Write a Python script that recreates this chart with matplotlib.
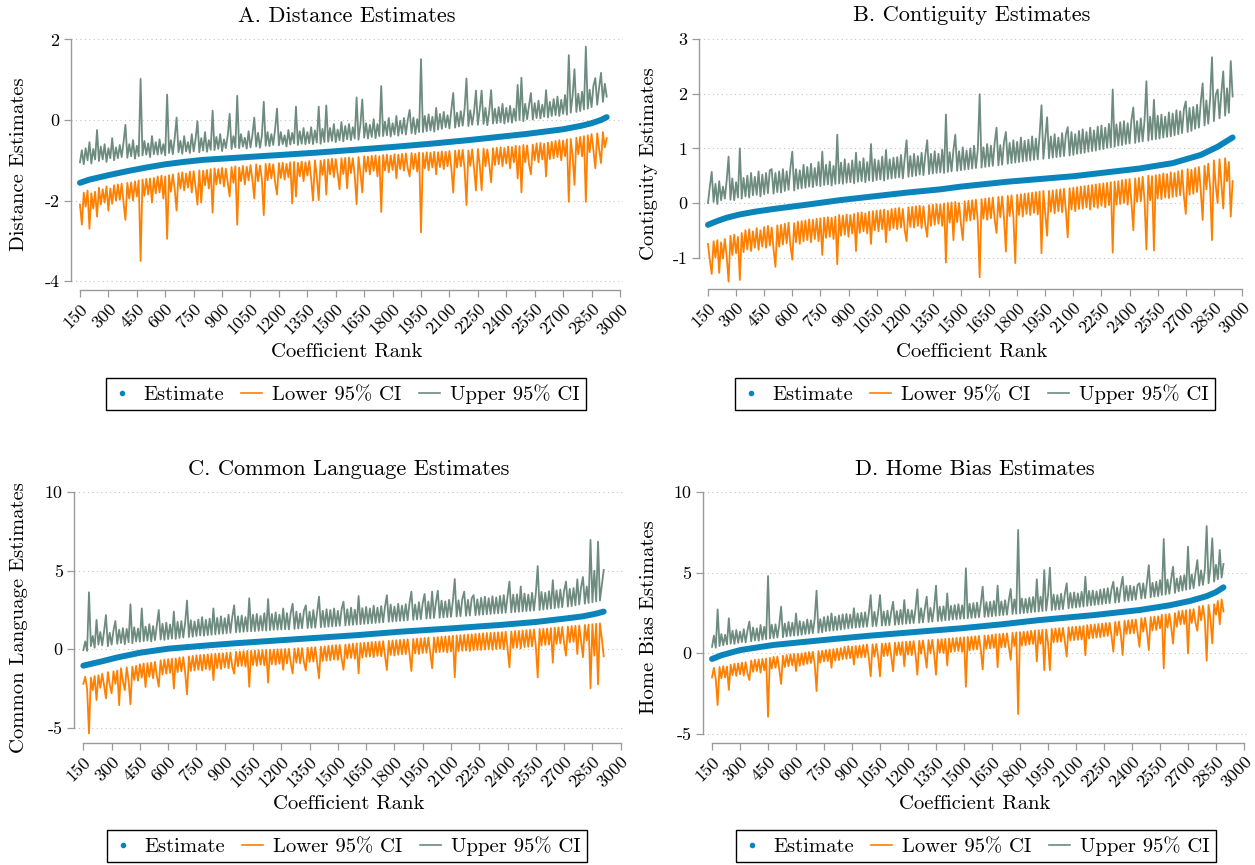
import numpy as np
import matplotlib
matplotlib.use("Agg")
import matplotlib.pyplot as plt
from matplotlib.lines import Line2D

plt.rcParams['font.family'] = ['cmr10', 'DejaVu Serif']
plt.rcParams['axes.unicode_minus'] = False
plt.rcParams['axes.formatter.use_mathtext'] = True

W, H = 1255, 865
BLUE = '#0a84ba'
ORANGE = '#ff7f00'
GREEN = '#6d8b7e'

x_ticks = list(range(150, 3001, 150))
legend_labels = ['Estimate', 'Lower 95% CI', 'Upper 95% CI']
RANK_START, RANK_STEP = 150, 10   # CI series are read every 10 ranks from rank 150

# ---------------- Panel A: Distance ----------------
est_rank_A = [150, 200, 300, 400, 500, 600, 700, 800, 1000, 1200, 1400, 1600, 1800,
              2000, 2200, 2400, 2500, 2600, 2700, 2800, 2850, 2900, 2930]
est_A = [-1.56, -1.48, -1.37, -1.27, -1.18, -1.10, -1.04, -0.99, -0.93, -0.87, -0.81, -0.74, -0.67,
         -0.59, -0.50, -0.40, -0.35, -0.29, -0.23, -0.14, -0.08, 0.00, 0.07]
upper_A = [
    -1.05, -0.75, -1.10, -0.70, -1.00, -0.55, -1.08, -0.72, -0.98, -0.25,
    -1.02, -0.66, -0.98, -0.60, -1.04, -0.70, -0.95, -0.45, -1.00, -0.68,
    -0.95, -0.62, -0.92, -0.55, -0.12, -0.94, -0.60, -0.90, -0.50, -0.96,
    -0.64, -0.90, 1.02, -0.88, -0.52, -0.86, -0.58, -0.92, -0.40, -0.85,
    -0.55, -0.86, -0.48, -0.84, -0.60, -0.88, 0.63, -0.82, -0.50, -0.85,
    -0.45, 0.06, -0.80, -0.52, -0.84, -0.40, -0.78, -0.55, -0.82, -0.35,
    -0.78, -0.48, -0.03, -0.80, -0.45, -0.76, -0.30, -0.79, -0.50, -0.74,
    0.23, -0.75, -0.42, -0.72, -0.35, -0.77, -0.48, -0.70, -0.38, 0.15,
    -0.72, -0.40, -0.68, 0.60, -0.70, -0.35, -0.66, -0.44, -0.71, -0.28,
    -0.68, -0.38, 0.06, -0.66, -0.32, -0.69, -0.40, 0.45, -0.64, -0.30,
    -0.65, -0.35, -0.62, -0.22, 0.28, -0.63, -0.30, -0.60, -0.38, -0.66,
    -0.25, -0.61, -0.32, -0.58, 0.33, -0.62, -0.28, -0.59, -0.20, -0.60,
    -0.30, -0.58, -0.18, -0.60, -0.26, -0.56, 0.33, -0.59, -0.22, -0.55,
    0.36, -0.54, -0.20, -0.52, -0.10, -0.55, -0.24, -0.50, -0.05, -0.53,
    -0.15, -0.48, -0.10, -0.50, -0.18, -0.46, 0.56, -0.49, -0.12, 0.51,
    -0.44, -0.08, -0.46, -0.12, -0.42, 0.02, -0.45, -0.10, -0.40, 0.84,
    -0.40, -0.04, -0.38, 0.05, -0.41, -0.08, -0.36, 0.10, -0.39, -0.02,
    -0.34, 0.05, -0.36, 0.00, 0.25, -0.33, 0.06, -0.35, 0.02, -0.30,
    1.51, -0.30, 0.10, -0.28, 0.14, -0.26, 0.08, -0.29, 0.30, -0.24,
    0.15, -0.22, 0.20, -0.18, 0.12, -0.21, 0.25, 0.67, -0.19, 0.18,
    -0.16, 0.22, -0.14, 0.28, 1.03, -0.15, 0.24, -0.12, 0.20, 0.73,
    -0.12, 0.26, 0.73, -0.10, 0.30, -0.13, 0.22, 0.74, -0.09, 0.28,
    -0.08, 0.32, -0.06, 0.40, -0.09, 0.30, -0.05, 0.35, -0.07, 0.28,
    -0.02, 0.87, 0.00, 1.05, -0.03, 0.40, 0.02, 0.36, 0.67, 0.01,
    0.42, 0.05, 0.48, 0.04, 0.38, 0.08, 0.74, 0.06, 0.45, 0.10,
    0.52, 0.12, 0.58, 0.10, 0.50, 0.15, 0.62, 0.13, 1.61, 0.18,
    0.60, 1.26, 0.20, 0.65, 0.22, 0.70, 0.26, 1.82, 0.28, 0.75,
    0.32, 0.85, 1.04, 0.38, 0.80, 1.17, 0.45, 0.90, 0.58,
]
lower_A = [
    -2.10, -2.60, -1.80, -2.15, -1.75, -2.70, -1.82, -2.20, -1.78, -2.40,
    -1.68, -2.10, -1.72, -2.05, -1.65, -2.25, -1.70, -2.08, -1.62, -2.00,
    -1.60, -1.98, -1.58, -2.05, -2.48, -1.56, -1.95, -1.55, -2.00, -1.52,
    -1.90, -1.50, -3.50, -1.48, -1.88, -1.46, -1.85, -1.45, -2.05, -1.44,
    -1.82, -1.40, -1.80, -1.38, -1.95, -1.40, -2.95, -1.37, -1.78, -1.35,
    -1.72, -2.25, -1.32, -1.70, -1.30, -1.75, -1.33, -1.68, -1.28, -1.80,
    -1.27, -1.65, -2.10, -1.25, -2.05, -1.26, -1.62, -1.24, -1.70, -1.22,
    -2.30, -1.20, -1.60, -1.22, -1.58, -1.19, -1.65, -1.21, -1.55, -1.90,
    -1.17, -1.56, -1.15, -2.60, -1.18, -1.52, -1.14, -1.60, -1.16, -1.50,
    -1.12, -1.48, -1.95, -1.10, -1.52, -1.13, -1.46, -2.36, -1.09, -1.50,
    -1.08, -1.45, -1.10, -1.55, -1.85, -1.07, -1.44, -1.06, -1.48, -1.09,
    -1.42, -1.05, -2.07, -1.04, -1.90, -1.06, -1.40, -1.03, -1.52, -1.05,
    -1.38, -1.02, -1.45, -2.00, -1.00, -1.40, -1.99, -1.01, -1.36, -0.99,
    -1.85, -0.98, -1.35, -0.96, -1.42, -0.97, -1.33, -1.72, -0.95, -1.34,
    -0.94, -1.70, -0.93, -1.32, -0.95, -1.38, -2.09, -0.92, -1.30, -1.80,
    -0.90, -1.28, -0.91, -1.35, -0.89, -1.26, -0.88, -1.40, -0.90, -2.28,
    -0.87, -1.25, -0.86, -1.30, -0.88, -1.24, -0.85, -1.45, -0.86, -1.22,
    -0.84, -1.26, -0.83, -1.20, -1.40, -0.82, -1.22, -0.84, -1.28, -0.81,
    -2.79, -0.82, -1.20, -0.80, -1.25, -0.81, -1.18, -0.79, -1.35, -0.80,
    -1.17, -0.78, -1.22, -0.79, -1.15, -0.77, -1.20, -1.80, -0.76, -1.18,
    -0.75, -1.15, -0.74, -1.22, -2.11, -0.76, -1.14, -0.73, -1.20, -1.75,
    -0.72, -1.12, -1.74, -0.71, -1.15, -0.73, -1.10, -1.55, -0.70, -1.12,
    -0.69, -1.10, -0.68, -1.15, -0.70, -1.08, -0.66, -1.20, -0.67, -1.05,
    -0.64, -1.45, -0.65, -1.80, -0.62, -1.05, -0.63, -1.10, -1.35, -0.61,
    -1.00, -0.58, -1.05, -0.57, -0.98, -0.59, -1.40, -0.56, -0.97, -0.54,
    -0.95, -0.52, -0.92, -0.50, -1.00, -0.51, -0.90, -0.48, -2.03, -0.47,
    -0.88, -1.61, -0.44, -0.85, -0.42, -0.90, -0.40, -2.03, -0.38, -0.80,
    -0.35, -0.75, -1.20, -0.33, -0.72, -1.07, -0.30, -0.68, -0.45,
]

# ---------------- Panel B: Contiguity ----------------
est_rank_B = [150, 200, 250, 320, 400, 500, 680, 850, 1030, 1210, 1390, 1500, 1750,
              2100, 2450, 2630, 2780, 2870, 2950]
est_B = [-0.40, -0.33, -0.27, -0.21, -0.16, -0.11, -0.03, 0.05, 0.12, 0.19, 0.25, 0.30, 0.39,
         0.49, 0.63, 0.73, 0.88, 1.03, 1.20]
upper_B = [
    0.00, 0.30, 0.57, 0.02, 0.35, -0.02, 0.40, 0.05, 0.30, 0.08,
    0.42, 0.85, 0.06, 0.45, 0.05, 0.38, 0.10, 1.00, 0.08, 0.46,
    0.12, 0.50, 0.10, 0.55, 0.14, 0.48, 0.15, 0.58, 0.12, 0.52,
    0.16, 0.55, 0.18, 0.60, 0.62, 0.17, 0.55, 0.20, 0.58, 0.19,
    0.62, 0.22, 0.58, 0.24, 0.65, 0.94, 0.23, 0.62, 0.26, 0.60,
    0.27, 0.70, 0.28, 0.66, 0.30, 0.72, 0.29, 0.64, 0.32, 0.75,
    0.31, 0.94, 0.33, 0.70, 0.34, 0.76, 0.32, 0.68, 0.35, 1.25,
    0.36, 0.74, 0.35, 0.80, 0.37, 0.72, 0.38, 0.78, 0.36, 0.92,
    0.39, 0.76, 0.40, 0.82, 0.38, 0.75, 0.41, 1.08, 0.40, 0.80,
    0.42, 0.78, 0.43, 0.85, 0.41, 0.97, 0.44, 0.80, 0.45, 0.83,
    0.46, 0.84, 0.47, 0.88, 0.45, 0.82, 1.15, 0.48, 0.86, 0.49,
    0.90, 0.50, 0.86, 0.52, 0.92, 0.51, 0.88, 1.15, 0.53, 0.90,
    0.54, 0.95, 0.55, 0.90, 0.56, 0.98, 0.55, 1.62, 0.57, 0.93,
    0.58, 0.97, 1.25, 0.59, 0.95, 0.60, 1.02, 0.61, 0.96, 0.62,
    1.00, 0.63, 1.05, 0.64, 0.98, 1.99, 0.65, 1.02, 0.66, 1.08,
    0.67, 1.05, 0.68, 1.10, 1.38, 0.69, 1.06, 0.70, 1.12, 1.30,
    0.72, 1.10, 0.73, 1.15, 0.74, 1.12, 0.75, 1.20, 0.76, 1.14,
    0.77, 1.16, 0.78, 1.22, 0.79, 1.18, 0.80, 1.25, 1.79, 0.81,
    1.20, 1.57, 0.82, 1.22, 0.83, 1.26, 0.84, 1.20, 0.85, 1.28,
    0.86, 1.25, 1.39, 0.87, 1.30, 0.88, 1.26, 0.90, 1.32, 0.91,
    1.35, 0.92, 1.30, 0.94, 1.38, 0.95, 1.33, 0.96, 1.40, 0.98,
    1.42, 0.99, 1.38, 1.01, 1.45, 1.02, 2.08, 1.03, 1.44, 1.05,
    1.48, 1.06, 1.50, 1.08, 1.46, 1.09, 1.52, 1.75, 1.10, 1.50,
    1.12, 1.55, 1.13, 1.52, 2.23, 1.14, 1.58, 1.16, 1.89, 1.17,
    1.60, 1.18, 1.62, 1.20, 1.58, 1.21, 1.66, 1.22, 1.64, 1.24,
    1.70, 1.26, 1.68, 1.28, 1.72, 1.86, 1.30, 1.74, 1.32, 1.76,
    1.36, 1.80, 1.38, 1.85, 2.19, 1.42, 1.88, 1.45, 1.92, 2.67,
    1.50, 1.98, 2.08, 1.55, 2.02, 2.41, 1.60, 2.10, 1.65, 2.60,
    1.95,
]
lower_B = [
    -0.75, -1.05, -1.30, -0.70, -1.00, -0.68, -1.28, -0.72, -1.02, -0.66,
    -0.98, -1.44, -0.60, -0.95, -0.58, -0.92, -0.62, -1.41, -0.55, -0.90,
    -0.50, -0.85, -0.48, -0.88, -0.52, -0.82, -0.46, -0.86, -0.50, -0.80,
    -0.44, -0.82, -0.42, -0.78, -0.45, -0.85, -1.17, -0.41, -0.80, -0.40,
    -0.76, -0.38, -0.74, -0.36, -0.78, -1.04, -0.37, -0.72, -0.34, -0.75,
    -0.33, -0.70, -0.32, -0.68, -0.30, -0.72, -0.31, -0.66, -0.29, -0.70,
    -0.28, -0.95, -0.27, -0.64, -0.26, -0.62, -0.27, -0.66, -0.25, -1.12,
    -0.22, -0.60, -0.23, -0.58, -0.21, -0.62, -0.22, -0.56, -0.20, -0.88,
    -0.18, -0.55, -0.17, -0.52, -0.19, -0.56, -0.16, -0.75, -0.15, -0.50,
    -0.14, -0.52, -0.13, -0.48, -0.12, -0.72, -0.14, -0.50, -0.11, -0.46,
    -0.10, -0.48, -0.09, -0.45, -0.11, -0.50, -0.70, -0.08, -0.44, -0.07,
    -0.45, -0.06, -0.42, -0.05, -0.46, -0.06, -0.40, -0.62, -0.04, -0.42,
    -0.03, -0.40, -0.02, -0.38, -0.03, -0.42, -0.01, -1.09, 0.00, -0.36,
    0.01, -0.68, 0.02, -0.35, 0.00, -0.38, -0.68, 0.03, -0.33, 0.04,
    -0.32, 0.05, -0.30, 0.06, -0.34, -1.36, 0.07, -0.29, 0.08, -0.31,
    0.09, -0.28, 0.10, -0.30, -0.55, 0.11, -0.26, 0.12, -0.28, -0.89,
    0.13, -0.24, 0.14, -0.26, -1.10, 0.15, -0.22, 0.16, -0.25, 0.17,
    -0.20, 0.18, -0.22, 0.19, -0.18, 0.20, -0.21, 0.21, -0.92, 0.22,
    -0.18, -0.60, 0.22, -0.16, 0.23, -0.19, 0.24, -0.15, 0.25, -0.17,
    0.26, -0.14, -0.63, 0.27, -0.12, 0.28, -0.15, 0.29, -0.11, 0.30,
    -0.10, 0.31, -0.08, 0.32, -0.12, 0.33, -0.07, 0.34, -0.09, 0.35,
    -0.05, 0.36, -0.08, 0.37, -0.04, 0.38, -0.91, 0.39, -0.03, 0.40,
    -0.02, 0.42, 0.00, 0.43, -0.03, 0.44, 0.01, -0.50, 0.45, 0.02,
    0.46, 0.03, 0.48, 0.04, -0.85, 0.50, 0.05, 0.49, -0.87, 0.51,
    0.08, 0.52, 0.07, 0.54, 0.10, 0.53, 0.09, 0.56, 0.11, 0.55,
    0.12, 0.58, 0.14, 0.60, 0.13, -0.20, 0.62, 0.15, 0.61, 0.17,
    0.64, 0.20, 0.66, 0.22, -0.31, 0.68, 0.25, 0.72, 0.28, -0.68,
    0.78, 0.32, 0.00, 0.80, 0.36, -0.10, 0.82, 0.40, 0.75, -0.25,
    0.40,
]

# ---------------- Panel C: Common Language ----------------
est_rank_C = [150, 200, 250, 330, 450, 600, 800, 950, 1100, 1300, 1400, 1600, 1830,
              2100, 2360, 2550, 2714, 2800, 2870, 2910]
est_C = [-1.04, -0.90, -0.76, -0.52, -0.22, 0.04, 0.24, 0.38, 0.50, 0.66, 0.74, 0.90, 1.12,
         1.33, 1.55, 1.74, 1.97, 2.10, 2.27, 2.40]
upper_C = [
    -0.05, 0.50, -0.10, 3.63, 0.20, 0.85, 0.10, 1.87, 0.30, 1.10,
    0.25, 1.15, 2.18, 0.20, 1.05, 0.30, 1.20, 1.80, 0.35, 1.25,
    0.40, 1.35, 0.32, 1.30, 0.45, 2.86, 0.38, 1.40, 0.50, 1.32,
    0.48, 2.60, 0.52, 1.45, 0.55, 1.60, 0.50, 1.48, 0.58, 1.55,
    2.50, 0.62, 1.62, 0.60, 1.70, 0.65, 1.58, 0.68, 2.40, 0.66,
    1.75, 0.72, 1.80, 0.75, 1.70, 3.10, 0.78, 1.85, 0.80, 1.78,
    0.85, 1.90, 0.88, 2.05, 0.86, 1.88, 0.90, 1.95, 0.92, 2.60,
    0.95, 2.00, 0.98, 2.10, 1.00, 1.98, 1.02, 2.20, 1.05, 2.05,
    2.80, 1.08, 2.10, 1.10, 2.15, 1.12, 2.05, 1.14, 3.25, 1.15,
    2.20, 1.16, 2.25, 1.18, 2.12, 1.20, 2.30, 1.19, 3.20, 1.22,
    2.25, 1.24, 2.35, 1.25, 2.20, 1.26, 2.60, 1.28, 2.30, 1.27,
    2.32, 2.90, 1.30, 2.40, 1.32, 2.28, 1.34, 2.45, 2.80, 1.35,
    2.40, 1.37, 2.50, 1.38, 2.35, 3.35, 1.40, 2.45, 1.42, 2.55,
    1.44, 2.50, 1.46, 2.60, 1.48, 2.45, 1.50, 2.58, 3.03, 1.52,
    2.55, 1.54, 2.65, 1.56, 2.52, 1.58, 3.39, 1.60, 2.62, 1.62,
    2.70, 1.64, 2.60, 1.66, 2.78, 1.68, 2.65, 1.70, 2.75, 1.72,
    2.70, 3.45, 1.75, 2.85, 1.77, 2.72, 1.79, 2.90, 1.81, 2.78,
    1.83, 2.88, 1.85, 2.95, 3.67, 1.88, 2.85, 1.90, 3.00, 1.92,
    2.95, 3.52, 1.95, 3.05, 1.97, 3.67, 1.99, 2.98, 3.73, 2.01,
    3.10, 2.03, 3.05, 2.05, 3.15, 2.07, 3.08, 4.47, 2.09, 3.12,
    2.11, 3.20, 3.67, 2.13, 3.15, 2.15, 3.25, 3.45, 2.17, 3.18,
    2.19, 3.28, 2.21, 3.35, 2.23, 3.25, 2.25, 3.38, 2.27, 3.30,
    2.29, 3.40, 2.31, 3.45, 2.33, 3.38, 4.31, 2.35, 3.48, 2.37,
    3.50, 2.39, 4.00, 2.41, 3.55, 2.43, 3.48, 2.45, 3.60, 2.47,
    3.58, 5.30, 2.50, 3.65, 2.53, 3.60, 2.56, 3.70, 2.59, 4.40,
    2.62, 3.75, 2.65, 3.80, 2.68, 3.72, 4.31, 2.72, 3.85, 2.75,
    3.90, 2.80, 4.45, 2.85, 3.95, 4.60, 2.90, 4.00, 2.95, 6.96,
    3.00, 5.00, 3.05, 6.85, 3.10, 4.10, 5.05,
]
lower_C = [
    -2.20, -1.75, -2.50, -5.35, -1.80, -2.60, -1.70, -3.23, -1.65, -2.45,
    -1.55, -2.30, -3.12, -1.45, -2.25, -2.80, -1.40, -2.20, -1.35, -3.55,
    -1.20, -2.05, -2.60, -1.15, -2.00, -3.50, -1.10, -1.95, -1.05, -2.00,
    -0.95, -1.80, -0.90, -2.40, -0.88, -1.75, -0.85, -1.85, -0.80, -1.70,
    -2.38, -0.70, -1.60, -0.65, -1.55, -0.62, -1.50, -0.60, -2.50, -0.58,
    -1.45, -0.52, -1.40, -0.50, -1.48, -2.87, -0.45, -1.38, -0.42, -1.35,
    -0.38, -1.30, -0.36, -1.35, -0.34, -1.25, -0.32, -1.30, -0.30, -1.96,
    -0.28, -1.20, -0.26, -1.25, -0.25, -1.15, -0.22, -1.20, -0.20, -1.10,
    -1.55, -0.16, -1.08, -0.14, -1.05, -0.12, -1.10, -0.10, -2.38, -0.09,
    -1.00, -0.08, -1.05, -0.06, -0.98, -0.05, -1.02, -0.04, -2.12, -0.03,
    -0.95, -0.02, -0.98, 0.00, -0.92, 0.01, -1.30, 0.02, -0.90, 0.03,
    -0.88, -1.53, 0.05, -0.85, 0.07, -0.90, 0.08, -0.82, -1.35, 0.10,
    -0.80, 0.12, -0.78, 0.14, -0.82, -1.85, 0.16, -0.75, 0.18, -0.72,
    0.22, -0.70, 0.25, -0.65, 0.27, -0.68, 0.28, -0.62, -1.30, 0.30,
    -0.58, 0.33, -0.55, 0.36, -0.60, 0.38, -1.53, 0.40, -0.52, 0.42,
    -0.48, 0.44, -0.45, 0.46, -0.50, 0.48, -0.42, 0.50, -0.44, 0.52,
    -0.38, -1.32, 0.54, -0.36, 0.56, -0.40, 0.58, -0.34, 0.60, -0.32,
    0.62, -0.30, 0.64, -0.28, -1.38, 0.66, -0.26, 0.68, -0.30, 0.70,
    -0.24, 0.72, -0.22, 0.74, -0.25, -1.21, 0.76, -0.20, 0.78, -0.18,
    0.80, -0.16, 0.82, -0.20, 0.84, -0.14, 0.86, -1.78, 0.88, -0.12,
    0.90, -0.10, 0.92, -0.08, 0.94, -0.12, 0.96, -0.06, 0.98, -0.04,
    1.00, -0.05, 1.02, -0.02, 1.04, 0.00, 1.05, -0.03, 1.07, 0.02,
    1.08, 0.04, 1.10, 0.00, 1.12, 0.06, -1.15, 1.14, 0.08, 1.16,
    0.10, 1.18, 0.05, 1.20, 0.14, 1.22, 0.16, 1.24, 0.18, 1.26,
    0.20, -1.78, 1.28, 0.24, 1.30, 0.28, 1.32, 0.30, 1.35, -0.85,
    1.38, 0.34, 1.40, 0.38, 1.42, 0.40, -0.40, 1.45, 0.44, 1.48,
    0.48, 1.50, -0.30, 1.52, 0.52, -0.50, 1.55, 0.56, 1.58, -2.48,
    1.60, -0.40, 1.62, -2.23, 1.65, 0.70, -0.45,
]

# ---------------- Panel D: Home Bias ----------------
est_rank_D = [150, 200, 300, 400, 480, 600, 840, 1000, 1190, 1370, 1480, 1700, 1900,
              2200, 2440, 2600, 2710, 2800, 2850, 2890]
est_D = [-0.35, -0.12, 0.20, 0.38, 0.52, 0.66, 0.93, 1.10, 1.28, 1.45, 1.55, 1.80, 2.06,
         2.38, 2.69, 2.98, 3.25, 3.55, 3.80, 4.10]
upper_D = [
    0.40, 1.10, 0.35, 2.73, 0.45, 1.20, 0.50, 1.15, 0.55, 2.18,
    0.60, 1.40, 0.58, 1.45, 0.65, 1.35, 0.70, 1.50, 0.68, 1.42,
    1.97, 0.75, 1.60, 0.80, 1.55, 0.78, 1.76, 0.85, 1.65, 0.88,
    4.80, 0.92, 1.78, 0.95, 1.80, 0.98, 1.75, 2.90, 1.00, 1.85,
    1.05, 1.95, 1.08, 1.90, 1.10, 2.48, 1.12, 2.00, 1.15, 1.95,
    1.20, 2.10, 1.22, 2.05, 1.25, 2.15, 3.89, 1.28, 2.12, 1.30,
    2.25, 1.38, 2.30, 1.40, 2.48, 1.42, 2.28, 1.45, 2.35, 1.48,
    2.42, 1.52, 2.45, 1.55, 2.40, 1.58, 2.80, 1.60, 2.48, 1.62,
    2.52, 1.64, 2.55, 1.66, 2.50, 3.62, 1.68, 2.58, 1.70, 2.55,
    3.62, 1.72, 2.60, 1.74, 2.65, 1.75, 2.58, 3.20, 1.77, 2.62,
    1.80, 2.70, 1.82, 3.31, 1.84, 2.72, 1.86, 2.68, 1.88, 2.75,
    3.97, 1.90, 2.80, 1.92, 2.78, 3.52, 1.95, 2.82, 1.97, 2.85,
    4.20, 2.00, 2.90, 2.02, 2.92, 2.05, 3.72, 2.07, 2.95, 2.10,
    3.00, 2.12, 3.05, 2.14, 2.98, 2.16, 5.28, 2.18, 3.08, 2.20,
    3.12, 2.22, 3.15, 2.24, 3.10, 4.14, 2.26, 3.18, 2.28, 3.20,
    2.30, 3.25, 2.33, 4.20, 2.36, 3.22, 2.38, 3.30, 2.40, 3.28,
    4.00, 2.44, 3.35, 2.46, 7.66, 2.48, 3.40, 2.50, 3.38, 2.52,
    3.45, 2.55, 3.50, 2.58, 4.60, 2.60, 3.52, 2.62, 5.17, 2.65,
    3.60, 5.32, 2.68, 3.65, 2.70, 3.62, 2.72, 3.70, 2.75, 3.68,
    4.35, 2.80, 3.75, 2.83, 3.78, 2.85, 3.72, 2.88, 3.82, 2.90,
    4.76, 2.95, 3.88, 2.98, 3.90, 3.00, 3.85, 3.03, 3.95, 3.06,
    4.00, 3.10, 4.05, 3.12, 3.98, 4.45, 3.15, 4.08, 3.18, 4.10,
    4.76, 3.25, 4.18, 3.28, 4.20, 3.30, 4.15, 3.33, 4.25, 4.35,
    3.40, 4.35, 3.43, 4.40, 5.48, 3.48, 4.38, 3.52, 4.45, 3.55,
    4.55, 3.62, 7.10, 3.65, 4.58, 3.70, 4.62, 5.38, 3.75, 4.65,
    3.85, 4.80, 3.90, 4.85, 3.95, 6.62, 4.00, 4.90, 4.05, 5.00,
    5.79, 4.20, 5.15, 4.25, 5.20, 7.90, 4.35, 5.30, 7.14, 4.45,
    5.50, 4.60, 6.42, 4.70, 5.55,
]
lower_D = [
    -1.50, -0.90, -1.60, -3.21, -0.85, -1.55, -0.80, -1.50, -0.82, -2.27,
    -0.70, -1.35, -0.65, -1.40, -0.62, -1.30, -0.58, -1.38, -0.55, -1.25,
    -1.66, -0.45, -1.15, -0.40, -1.10, -0.38, -1.20, -0.35, -1.05, -0.32,
    -3.94, -0.28, -0.95, -0.22, -0.90, -0.20, -0.98, -1.90, -0.15, -0.85,
    -0.10, -0.80, -0.06, -0.75, -0.04, -1.10, -0.02, -0.78, 0.00, -0.72,
    0.05, -0.65, 0.08, -0.60, 0.10, -0.68, -2.34, 0.14, -0.58, 0.16,
    -0.50, 0.20, -0.48, 0.24, -0.90, 0.26, -0.45, 0.30, -0.42, 0.32,
    -0.36, 0.40, -0.34, 0.44, -0.30, 0.42, -0.70, 0.46, -0.28, 0.48,
    -0.26, 0.52, -0.24, 0.55, -0.28, -1.43, 0.56, -0.20, 0.58, -0.22,
    -1.43, 0.60, -0.18, 0.62, -0.15, 0.64, -0.20, -1.12, 0.66, -0.12,
    0.68, -0.10, 0.70, -0.80, 0.72, -0.08, 0.74, -0.12, 0.76, -0.05,
    -1.33, 0.78, -0.02, 0.80, 0.00, -0.90, 0.82, 0.02, 0.84, -0.04,
    -1.33, 0.86, 0.05, 0.88, 0.02, 0.90, -0.75, 0.92, 0.08, 0.94,
    0.12, 0.96, 0.15, 0.98, 0.10, 1.00, -2.07, 1.02, 0.18, 1.04,
    0.22, 1.06, 0.25, 1.08, 0.20, -1.00, 1.10, 0.28, 1.12, 0.30,
    1.15, 0.34, 1.18, -0.86, 1.20, 0.36, 1.22, 0.38, 1.24, 0.40,
    -0.40, 1.28, 0.45, 1.30, -3.77, 1.32, 0.48, 1.34, 0.50, 1.36,
    0.55, 1.40, 0.58, 1.42, -0.50, 1.44, 0.60, 1.46, -1.04, 1.48,
    0.66, -1.04, 1.52, 0.68, 1.54, 0.70, 1.56, 0.72, 1.58, 0.74,
    -0.20, 1.62, 0.80, 1.64, 0.82, 1.66, 0.84, 1.68, 0.86, 1.70,
    -0.12, 1.75, 0.92, 1.78, 0.95, 1.80, 0.98, 1.82, 1.00, 1.85,
    1.05, 1.88, 1.08, 1.90, 1.10, 0.10, 1.95, 1.12, 1.98, 1.15,
    -0.10, 2.02, 1.20, 2.05, 1.22, 2.08, 1.25, 2.10, 1.28, 0.40,
    2.18, 1.35, 2.20, 1.38, 0.20, 2.25, 1.42, 2.28, 1.45, 2.30,
    1.55, 2.40, -0.93, 2.42, 1.60, 2.45, 1.62, 0.60, 2.50, 1.65,
    2.62, 1.80, 2.65, 1.82, 2.68, 0.00, 2.72, 1.88, 2.75, 1.90,
    1.40, 2.92, 2.05, 2.95, 2.10, -0.46, 3.00, 2.15, 0.62, 3.05,
    2.40, 3.25, 1.80, 3.35, 2.60,
]


def ranks_for(values):
    return RANK_START + RANK_STEP * np.arange(len(values))


panels = [
    dict(title='A. Distance Estimates', ylabel='Distance Estimates',
         lower=lower_A, upper=upper_A, est_rank=est_rank_A, est=est_A,
         yticks=[-4, -2, 0, 2], ylim=(-4.22, 2.03), box=(70.5, 622.8, 38.2, 290.0),
         ylab_x=-0.0923, xlab_y=-0.246, leg=(346, 394)),
    dict(title='B. Contiguity Estimates', ylabel='Contiguity Estimates',
         lower=lower_B, upper=upper_B, est_rank=est_rank_B, est=est_B,
         yticks=[-1, 0, 1, 2, 3], ylim=(-1.57, 3.02), box=(698.6, 1244.8, 38.1, 288.7),
         ylab_x=-0.0908, xlab_y=-0.253, leg=(975, 394)),
    dict(title='C. Common Language Estimates', ylabel='Common Language Estimates',
         lower=lower_C, upper=upper_C, est_rank=est_rank_C, est=est_C,
         yticks=[-5, 0, 5, 10], ylim=(-5.95, 10.05), box=(73.9, 623.5, 491.4, 742.8),
         ylab_x=-0.099, xlab_y=-0.243, leg=(347, 846)),
    dict(title='D. Home Bias Estimates', ylabel='Home Bias Estimates',
         lower=lower_D, upper=upper_D, est_rank=est_rank_D, est=est_D,
         yticks=[-5, 0, 5, 10], ylim=(-5.55, 10.05), box=(702.7, 1246.8, 491.5, 742.7),
         ylab_x=-0.0987, xlab_y=-0.244, leg=(976, 846)),
]

fig = plt.figure(figsize=(W / 100, H / 100), dpi=100)
fig.patch.set_facecolor('white')
AXC = '#9a9a9a'

for p in panels:
    l, r, t, b = p['box']
    ax = fig.add_axes([l / W, 1 - b / H, (r - l) / W, (b - t) / H])
    ax.plot(ranks_for(p['lower']), p['lower'], color=ORANGE, lw=1.3, zorder=2)
    ax.plot(ranks_for(p['upper']), p['upper'], color=GREEN, lw=1.3, zorder=2)
    ax.plot(p['est_rank'], p['est'], color=BLUE, lw=4.3, solid_capstyle='round', zorder=3)

    ax.set_xlim(100, 3015)
    ax.set_ylim(*p['ylim'])
    ax.set_xticks(x_ticks)
    ax.set_xticklabels([str(v) for v in x_ticks], rotation=45, ha='right',
                       rotation_mode='anchor')
    ax.set_yticks(p['yticks'])
    ax.set_yticklabels([str(v) for v in p['yticks']])

    for s in ('top', 'right'):
        ax.spines[s].set_visible(False)
    ax.spines['left'].set_bounds(p['yticks'][0], p['yticks'][-1])
    ax.spines['bottom'].set_bounds(150, 3000)
    for s in ('left', 'bottom'):
        ax.spines[s].set_color(AXC)
        ax.spines[s].set_linewidth(1.0)
    ax.tick_params(direction='out', length=5, width=0.9, color=AXC,
                   labelsize=13, labelcolor='black', pad=3)
    ax.yaxis.grid(True, linestyle=(0, (1, 3)), color='#c4c4c4', lw=0.8)
    ax.xaxis.grid(False)
    ax.set_axisbelow(True)

    ax.set_title(p['title'], fontsize=16.1, pad=12)
    ax.set_ylabel(p['ylabel'], fontsize=14.9)
    ax.yaxis.label.set_va('center')
    ax.yaxis.set_label_coords(p['ylab_x'], 0.5)
    ax.set_xlabel('Coefficient Rank', fontsize=14.9)
    ax.xaxis.label.set_va('center')
    ax.xaxis.set_label_coords(0.5, p['xlab_y'])

    handles = [Line2D([], [], color=BLUE, marker='o', ls='none', ms=3.0),
               Line2D([], [], color=ORANGE, lw=1.2),
               Line2D([], [], color=GREEN, lw=1.2)]
    cx, cy = p['leg']
    leg = fig.legend(handles, legend_labels, loc='center',
                     bbox_to_anchor=(cx / W, 1 - cy / H), ncol=3, fontsize=14.9,
                     frameon=True, fancybox=False, edgecolor='black', framealpha=1,
                     handlelength=1.0, handletextpad=0.5, columnspacing=0.85,
                     borderpad=0.3)
    leg.get_frame().set_linewidth(1.0)

fig.savefig('out.png', dpi=100, facecolor='white')
